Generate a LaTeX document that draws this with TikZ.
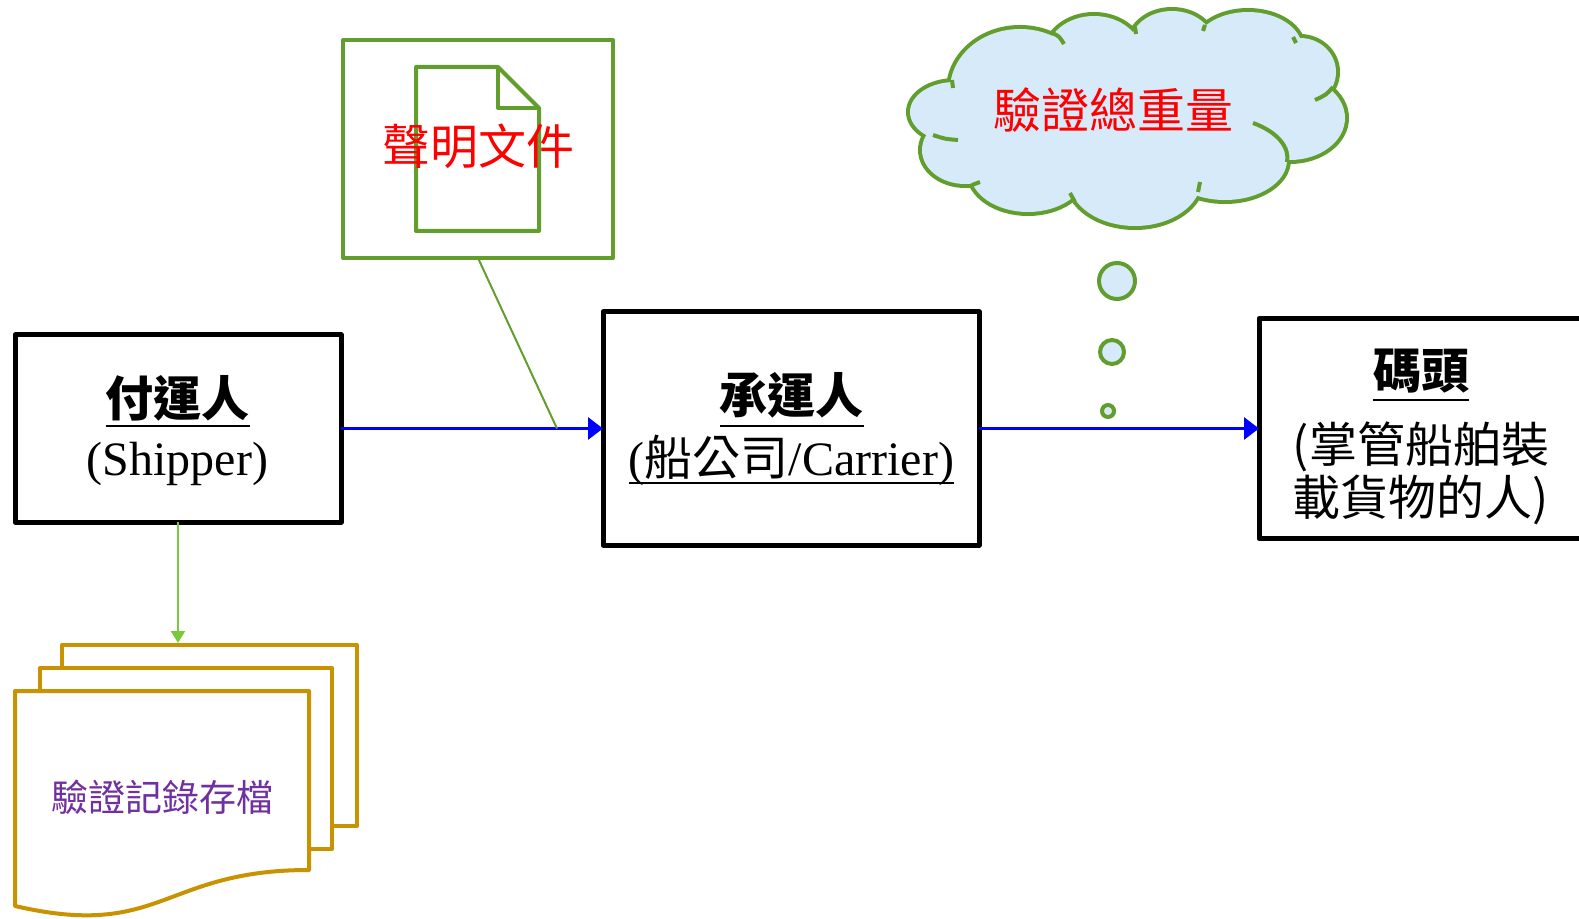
\documentclass[tikz,border=0pt]{standalone}
\usepackage{fontspec}
\setmainfont{Liberation Serif}
\newfontfamily\cjk{Noto Sans CJK TC}
\usetikzlibrary{arrows.meta}
\definecolor{cgreen}{RGB}{98,158,45}
\definecolor{lgreen}{RGB}{122,200,60}
\definecolor{cloudblue}{RGB}{214,234,250}
\definecolor{gold}{RGB}{201,146,0}
\definecolor{tpurple}{RGB}{112,48,160}
\begin{document}
\begin{tikzpicture}[x=0.5pt,y=-0.5pt,
  entity/.style={draw=black,line width=2.5pt,line join=round,inner sep=0pt,outer sep=0pt,fill=white},
  txt/.style={anchor=base,inner sep=0pt,outer sep=0pt},
  cjkbig/.style={font=\cjk\fontsize{24pt}{28pt}\selectfont},
  cjkbold/.style={font=\cjk\bfseries\fontsize{24pt}{28pt}\selectfont},
  serifbig/.style={font=\fontsize{24pt}{28pt}\selectfont},
  uline/.style={line width=1.3pt},
  flow/.style={blue,line width=1.5pt,-{Triangle[length=7.5pt,width=11pt]}},
  page/.style={draw=gold,line width=2pt,line join=round},
  gline/.style={draw=cgreen,line width=2pt,line join=round},
  bubble/.style={circle,draw=cgreen,fill=cloudblue,line width=2pt,inner sep=0pt}]
\path[use as bounding box] (0,0) rectangle (1579,919);
\clip (0,0) rectangle (1579,919);

% ---- entity boxes ----
\node[entity,minimum width=163pt,minimum height=93.5pt] (shipper) at (178,428.5) {};
\node[entity,minimum width=188pt,minimum height=116.5pt] (carrier) at (791,428.5) {};
\node[entity,minimum width=170.5pt,minimum height=110pt] (dock) at (1429.5,428.5) {};

% shipper text
\node[txt,cjkbold] (shT) at (177.5,416) {付運人};
\draw[uline] ([yshift=-5pt]shT.base west) -- ([yshift=-5pt]shT.base east);
\node[txt,serifbig] (shS) at (177.5,475) {(Shipper)};

% carrier text
\node[txt,cjkbold] (caT) at (791.5,414) {承運人};
\draw[uline] ([yshift=-6pt]caT.base west) -- ([yshift=-6pt]caT.base east);
\node[txt,serifbig] (caS) at (791.5,475) {({\cjk 船公司}/Carrier)};
\draw[uline] ([yshift=-4pt]caS.base west) -- ([yshift=-4pt]caS.base east);

% dock text
\node[txt,cjkbold] (dkT) at (1421,389) {碼頭};
\draw[uline] ([yshift=-5.5pt]dkT.base west) -- ([yshift=-5.5pt]dkT.base east);
\node[txt,cjkbig] (dkA) at (1421,462) {(掌管船舶裝};
\node[txt,cjkbig] (dkB) at (1421,515) {載貨物的人)};

% ---- flows ----
\draw[flow] (shipper.east) -- (carrier.west);
\draw[flow] (carrier.east) -- (dock.west);

% ---- declaration callout ----
\node[draw=cgreen,line width=2pt,line join=round,inner sep=0pt,outer sep=0pt,
      minimum width=135pt,minimum height=109pt] (callout) at (478,149) {};
\draw[gline] (416,67) -- (498,67) -- (539,108) -- (539,231) -- (416,231) -- cycle;
\draw[gline] (498,67) -- (498,108) -- (539,108);
\node[txt,cjkbig,text=red] (doc) at (478,165) {聲明文件};
\coordinate (ptr) at (557,428.5);
\draw[cgreen,line width=1pt] (callout.south) -- (ptr);

% ---- cloud ----
\begin{scope}
\foreach \cx/\cy/\rx/\ry in {1020/90/35/30.5, 1094/55/24/19.5, 1172/45/21/17, 1248/48/27/18,
   1300/72/18/17, 1290/118/27.5/21, 1225/160/31/20, 1135/180/33/23, 1028/172/29/20,
   965/150/21.5/17, 955/112/22.5/15}
  \draw[cgreen,line width=4pt] (\cx,\cy) ellipse [x radius=\rx pt, y radius=\ry pt];
\foreach \cx/\cy/\rx/\ry in {1020/90/35/30.5, 1094/55/24/19.5, 1172/45/21/17, 1248/48/27/18,
   1300/72/18/17, 1290/118/27.5/21, 1225/160/31/20, 1135/180/33/23, 1028/172/29/20,
   965/150/21.5/17, 955/112/22.5/15, 1128/112/90/36}
  \fill[cloudblue] (\cx,\cy) ellipse [x radius=\rx pt, y radius=\ry pt];
\end{scope}
% creases
\draw[cgreen,line width=2pt] (1052,33) .. controls (1059,36) .. (1064,44);
\draw[cgreen,line width=2pt] (1135,27) -- (1136,34);
\draw[cgreen,line width=2pt] (1205,25) -- (1203,31);
\draw[cgreen,line width=2pt] (1293,37) -- (1296,43);
\draw[cgreen,line width=2pt] (1333,87) .. controls (1326,95) .. (1315,100);
\draw[cgreen,line width=2pt] (1253,123) .. controls (1278,132) and (1290,148) .. (1287,162);
\draw[cgreen,line width=2pt] (1200,182) -- (1198,192);
\draw[cgreen,line width=2pt] (1070,193) -- (1075,202);
\draw[cgreen,line width=2pt] (980,182) -- (972,185);
\draw[cgreen,line width=2pt] (933,135) .. controls (945,139) .. (958,140);
\draw[cgreen,line width=2pt] (952,80) -- (953,88);
\node[txt,cjkbig,text=red] (cloudtxt) at (1113,129) {驗證總重量};

% thought bubbles
\node[bubble,minimum size=18pt] (b1) at (1117,281) {};
\node[bubble,minimum size=12pt] (b2) at (1112,352) {};
\node[bubble,minimum size=6pt] (b3) at (1108,411) {};

% ---- record stack ----
\draw[page] (332,826) -- (357,826) -- (357,645) -- (62,645) -- (62,668);
\draw[page] (309,849) -- (332,849) -- (332,668) -- (40,668) -- (40,691);
\draw[page,fill=white] (15,691) -- (309,691) -- (309,870)
   .. controls (162,870) and (162,940) .. (15,906) -- cycle;
\node[txt,text=tpurple,font=\cjk\fontsize{18.5pt}{22pt}\selectfont] (stack) at (162.5,811) {驗證記錄存檔};
\coordinate (stacktop) at (178,643);
\draw[lgreen,line width=1pt,-{Triangle[length=6pt,width=7pt]}] (shipper.south) -- (stacktop);
\end{tikzpicture}
\end{document}
